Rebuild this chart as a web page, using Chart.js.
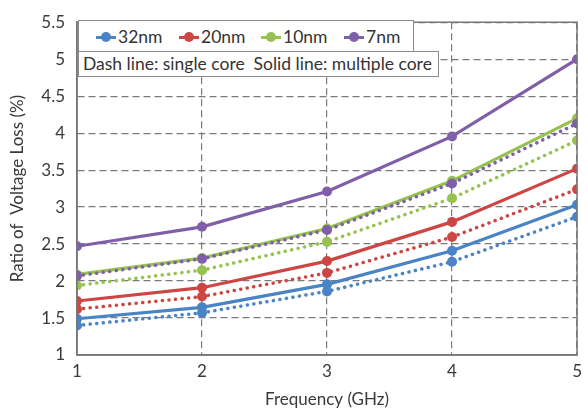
<!DOCTYPE html>
<html>
<head>
<meta charset="utf-8">
<script src="https://cdn.jsdelivr.net/npm/chart.js@4"></script>
<style>
  body { margin: 0; background: #fff; }
  #wrap { position: relative; width: 588px; height: 408px; font-family: Lato, sans-serif; color: #333; }
  .box { position: absolute; background: #fff; border: 1px solid #8a8a8a; box-sizing: border-box; font-size: 17.5px; }
  #legend { left: 78px; top: 20px; width: 336px; height: 32px; }
  #note { left: 78px; top: 51px; width: 361px; height: 26px; padding-left: 4px; line-height: 24px; white-space: pre; }
  .item { position: absolute; top: 0; line-height: 31px; white-space: nowrap; }
  .mk { display: inline-block; position: relative; width: 20px; height: 3px; vertical-align: middle; margin-right: 2px; margin-top: -2px; }
  .mk::after { content: ''; position: absolute; left: 5px; top: -4px; width: 10px; height: 10px; border-radius: 50%; background: inherit; }
</style>
</head>
<body>
<div id="wrap">
  <canvas id="c" width="588" height="408"></canvas>
  <div class="box" id="legend"></div>
  <div class="box" id="note">Dash line: single core  Solid line: multiple core</div>
</div>
<script>
/* ---- data ---- */
const freqs = [1, 2, 3, 4, 5];
const nodes = ['32nm', '20nm', '10nm', '7nm'];
const colors = ['#4a83c6', '#cc4643', '#96c24f', '#7f5fa8'];

const multi32  = [1.49, 1.645, 1.955, 2.41, 3.03];
const single32 = [1.40, 1.57, 1.86, 2.26, 2.87];
const multi20  = [1.73, 1.91, 2.27, 2.80, 3.52];
const single20 = [1.62, 1.79, 2.11, 2.595, 3.24];
const multi10  = [2.09, 2.31, 2.71, 3.355, 4.20];
const single10 = [1.94, 2.147, 2.53, 3.12, 3.90];
const multi7   = [2.47, 2.733, 3.21, 3.956, 5.00];
const single7  = [2.07, 2.30, 2.69, 3.32, 4.13];

const multi  = [multi32, multi20, multi10, multi7];
const single = [single32, single20, single10, single7];

/* ---- legend (html, real text) ---- */
const legendX = [17, 100, 182, 265];
document.getElementById('legend').innerHTML = nodes.map((n, i) =>
  `<span class="item" style="left:${legendX[i]}px"><span class="mk" style="background:${colors[i]}"></span>${n}</span>`
).join('');

/* ---- datasets: first in list is drawn on top ---- */
const pts = arr => arr.map((v, i) => ({ x: freqs[i], y: v }));
const datasets = [];
for (let i = nodes.length - 1; i >= 0; i--) {
  datasets.push({
    label: nodes[i] + ' single',
    data: pts(single[i]),
    borderColor: colors[i], backgroundColor: colors[i],
    borderWidth: 3.5, borderDash: [0.1, 6.5], borderCapStyle: 'round',
    pointRadius: 5, pointBorderWidth: 0
  });
  datasets.push({
    label: nodes[i] + ' multi',
    data: pts(multi[i]),
    borderColor: colors[i], backgroundColor: colors[i],
    borderWidth: 3.2, pointRadius: 5, pointBorderWidth: 0
  });
}

/* solid frame around plot area */
const frame = {
  id: 'frame',
  afterDraw(c) {
    const a = c.chartArea, ctx = c.ctx;
    ctx.save();
    ctx.strokeStyle = '#777';
    ctx.lineWidth = 1.5;
    ctx.strokeRect(a.left, a.top, a.right - a.left, a.bottom - a.top);
    ctx.restore();
  }
};

Chart.defaults.font.family = 'Lato, sans-serif';
Chart.defaults.color = '#3a3a3a';

new Chart(document.getElementById('c'), {
  type: 'line',
  data: { datasets },
  options: {
    responsive: false,
    animation: false,
    layout: { padding: { top: 17, right: 6, left: 0, bottom: 0 } },
    plugins: { legend: { display: false }, tooltip: { enabled: false } },
    scales: {
      x: {
        type: 'linear', min: 1, max: 5,
        ticks: { stepSize: 1, font: { size: 17 }, padding: 6 },
        grid: { color: '#7a7a7a', lineWidth: 1.2, drawTicks: false },
        border: { color: '#777', width: 1.5, dash: [7, 4] },
        title: { display: true, text: 'Frequency (GHz)', font: { size: 17 }, padding: { top: 4, bottom: -2 } },
        afterFit(s) { s.height = 53; }
      },
      y: {
        min: 1, max: 5.5,
        ticks: { stepSize: 0.5, font: { size: 17 }, padding: 12, callback: v => String(+v.toFixed(1)) },
        grid: { color: '#7a7a7a', lineWidth: 1.2, drawTicks: false },
        border: { color: '#777', width: 1.5, dash: [7, 4] },
        title: { display: true, text: 'Ratio of  Voltage Loss (%)', font: { size: 17 }, padding: { top: 7, bottom: 7 } },
        afterFit(s) { s.width = 77; }
      }
    }
  },
  plugins: [frame]
});
</script>
</body>
</html>
